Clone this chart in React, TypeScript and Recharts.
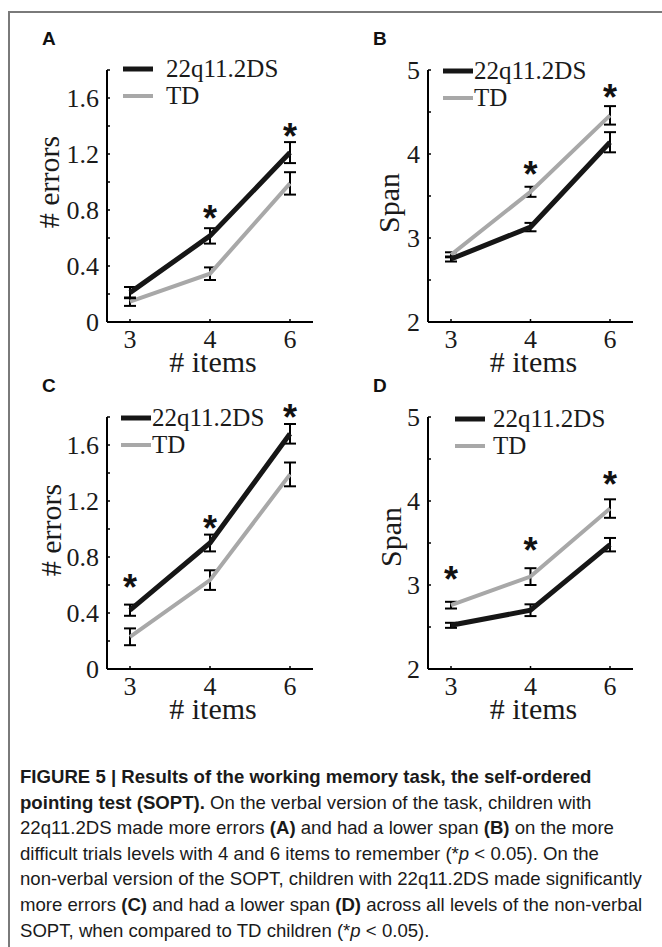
import React from 'react'
import { LineChart, Line, XAxis, YAxis, ErrorBar, ReferenceDot, Legend } from 'recharts'

const items = ['3', '4', '6']
const groups = ['22q11.2DS', 'TD']

// A - verbal SOPT, errors
const errVerbal22q = [0.21, 0.615, 1.21]
const errVerbal22qSem = [0.04, 0.055, 0.075]
const errVerbalTD = [0.145, 0.345, 0.99]
const errVerbalTDSem = [0.03, 0.045, 0.08]
const starsA = [null, 0.79, 1.38]

// B - verbal SOPT, span
const spanVerbal22q = [2.75, 3.13, 4.14]
const spanVerbal22qSem = [0.03, 0.05, 0.12]
const spanVerbalTD = [2.8, 3.55, 4.46]
const spanVerbalTDSem = [0.03, 0.06, 0.11]
const starsB = [null, 3.85, 4.76]

// C - non-verbal SOPT, errors
const errNonverbal22q = [0.42, 0.9, 1.68]
const errNonverbal22qSem = [0.04, 0.06, 0.07]
const errNonverbalTD = [0.23, 0.635, 1.39]
const errNonverbalTDSem = [0.06, 0.07, 0.085]
const starsC = [0.635, 1.06, 1.85]

// D - non-verbal SOPT, span
const spanNonverbal22q = [2.52, 2.7, 3.48]
const spanNonverbal22qSem = [0.03, 0.07, 0.08]
const spanNonverbalTD = [2.76, 3.1, 3.91]
const spanNonverbalTDSem = [0.04, 0.1, 0.11]
const starsD = [3.16, 3.5, 4.29]

const errTicks = [0, 0.2, 0.4, 0.6, 0.8, 1.0, 1.2, 1.4, 1.6, 1.8]
const errTickLabels = ['0', '', '0.4', '', '0.8', '', '1.2', '', '1.6', '']
const spanTicks = [2, 2.5, 3, 3.5, 4, 4.5, 5]
const spanTickLabels = ['2', '', '3', '', '4', '', '5']

const BLACK = '#161616'
const GRAY = '#a8a8a8'
const SERIF = '"Liberation Serif", "Times New Roman", serif'
const SANS = '"Liberation Sans", Arial, sans-serif'

type PanelProps = {
  letter: string
  left: number
  top: number
  ds: number[]
  dsSem: number[]
  td: number[]
  tdSem: number[]
  stars: (number | null)[]
  yTicks: number[]
  yTickLabels: string[]
  yLabel: string
  marginLeft: number
  marginRight: number
  yLabelX: number
  yLabelDy: number
  legendX: number
  legendY: number
  legendTextX: number
}

function Panel(p: PanelProps) {
  const data = items.map((it, i) => ({
    items: it,
    ds: p.ds[i],
    dsSem: p.dsSem[i],
    td: p.td[i],
    tdSem: p.tdSem[i],
  }))
  const domain = [p.yTicks[0], p.yTicks[p.yTicks.length - 1]]

  const legendContent = () => (
    <svg width={220} height={60} style={{ display: 'block' }}>
      {groups.map((g, i) => (
        <g key={g}>
          <line x1={0} x2={30} y1={13 + i * 27} y2={13 + i * 27} stroke={i === 0 ? BLACK : GRAY} strokeWidth={i === 0 ? 5 : 4} />
          <text x={p.legendTextX} y={21 + i * 27} fontFamily={SERIF} fontSize={25} fill="#1a1a1a">{g}</text>
        </g>
      ))}
    </svg>
  )

  return (
    <div style={{ position: 'absolute', left: p.left, top: p.top, width: 331, height: 380 }}>
      <div style={{ position: 'absolute', left: 42, top: 28, fontFamily: SANS, fontWeight: 'bold', fontSize: 19, color: '#111', zIndex: 2 }}>
        {p.letter}
      </div>
      <LineChart width={331} height={380} data={data} margin={{ top: 70, right: p.marginRight, bottom: 8, left: p.marginLeft }}>
        <XAxis
          dataKey="items"
          type="category"
          interval={0}
          padding={{ left: 23, right: 23 }}
          axisLine={{ stroke: '#000', strokeWidth: 2 }}
          tickLine={{ stroke: '#000', strokeWidth: 1.5 }}
          tickSize={-3}
          tickMargin={11}
          height={50}
          tick={{ fontFamily: SERIF, fontSize: 26, fill: '#1a1a1a' }}
          label={(props: any) => {
            const vb = props.viewBox
            return (
              <text x={vb.x + vb.width / 2 + 3} y={vb.y + 50} textAnchor="middle" fontFamily={SERIF} fontSize={30} fill="#1a1a1a">
                # items
              </text>
            )
          }}
        />
        <YAxis
          type="number"
          domain={domain}
          ticks={p.yTicks}
          interval={0}
          width={60}
          axisLine={{ stroke: '#000', strokeWidth: 2 }}
          tickLine={{ stroke: '#000', strokeWidth: 1.5 }}
          tickSize={-3}
          tickMargin={11}
          tickFormatter={(v: number, i: number) => p.yTickLabels[i]}
          tick={{ fontFamily: SERIF, fontSize: 26, fill: '#1a1a1a' }}
          label={(props: any) => {
            const vb = props.viewBox
            const y = vb.y + vb.height / 2 + p.yLabelDy
            return (
              <text x={p.yLabelX} y={y} transform={`rotate(-90, ${p.yLabelX}, ${y})`} textAnchor="middle" dominantBaseline="central" fontFamily={SERIF} fontSize={30} fill="#1a1a1a">
                {p.yLabel}
              </text>
            )
          }}
        />
        <Legend
          layout="horizontal"
          verticalAlign="middle"
          align="center"
          content={legendContent}
          wrapperStyle={{ position: 'absolute', left: p.legendX, top: p.legendY, width: 220, height: 60 }}
        />
        <Line dataKey="td" name="TD" stroke={GRAY} strokeWidth={4} dot={false} activeDot={false} isAnimationActive={false}>
          <ErrorBar dataKey="tdSem" direction="y" width={6} stroke="#000" strokeWidth={2} isAnimationActive={false} />
        </Line>
        <Line dataKey="ds" name="22q11.2DS" stroke={BLACK} strokeWidth={5} dot={false} activeDot={false} isAnimationActive={false}>
          <ErrorBar dataKey="dsSem" direction="y" width={6} stroke="#000" strokeWidth={2} isAnimationActive={false} />
        </Line>
        {p.stars.map((s, i) =>
          s == null ? null : (
            <ReferenceDot
              key={i}
              x={items[i]}
              y={s}
              r={0}
              ifOverflow="visible"
              shape={(sp: any) => (
                <text x={sp.cx} y={sp.cy + 20} textAnchor="middle" fontFamily={SANS} fontWeight="bold" fontSize={36} fill="#111">*</text>
              )}
            />
          )
        )}
      </LineChart>
    </div>
  )
}

export default function App() {
  return (
    <div style={{ position: 'absolute', left: 0, top: 0, width: 662, height: 947, background: '#fff', overflow: 'hidden' }}>
      <div style={{ position: 'absolute', left: 8, top: 11, width: 654, height: 2, background: '#7a7a7a' }} />
      <div style={{ position: 'absolute', left: 8, top: 11, width: 2, height: 936, background: '#7a7a7a' }} />
      <Panel
        letter="A" left={0} top={0}
        ds={errVerbal22q} dsSem={errVerbal22qSem} td={errVerbalTD} tdSem={errVerbalTDSem} stars={starsA}
        yTicks={errTicks} yTickLabels={errTickLabels} yLabel="# errors"
        marginLeft={47} marginRight={18} yLabelX={48} yLabelDy={-14}
        legendX={123} legendY={56} legendTextX={43}
      />
      <Panel
        letter="B" left={331} top={0}
        ds={spanVerbal22q} dsSem={spanVerbal22qSem} td={spanVerbalTD} tdSem={spanVerbalTDSem} stars={starsB}
        yTicks={spanTicks} yTickLabels={spanTickLabels} yLabel="Span"
        marginLeft={37} marginRight={29} yLabelX={57} yLabelDy={7}
        legendX={112} legendY={58} legendTextX={31}
      />
      <Panel
        letter="C" left={0} top={347}
        ds={errNonverbal22q} dsSem={errNonverbal22qSem} td={errNonverbalTD} tdSem={errNonverbalTDSem} stars={starsC}
        yTicks={errTicks} yTickLabels={errTickLabels} yLabel="# errors"
        marginLeft={47} marginRight={18} yLabelX={50} yLabelDy={-13}
        legendX={121} legendY={58} legendTextX={31}
      />
      <Panel
        letter="D" left={331} top={347}
        ds={spanNonverbal22q} dsSem={spanNonverbal22qSem} td={spanNonverbalTD} tdSem={spanNonverbalTDSem} stars={starsD}
        yTicks={spanTicks} yTickLabels={spanTickLabels} yLabel="Span"
        marginLeft={37} marginRight={29} yLabelX={59} yLabelDy={-6}
        legendX={124} legendY={59} legendTextX={38}
      />
      <div
        style={{
          position: 'absolute', left: 20, top: 764, width: 640,
          fontFamily: '"Liberation Sans Narrow", "Arial Narrow", "Liberation Sans", sans-serif',
          fontSize: 18.6, lineHeight: '25.6px', color: '#1a1a1a', whiteSpace: 'nowrap',
        }}
      >
        <b>FIGURE 5 | Results of the working memory task, the self-ordered</b><br />
        <b>pointing test (SOPT).</b> On the verbal version of the task, children with<br />
        22q11.2DS made more errors <b>(A)</b> and had a lower span <b>(B)</b> on the more<br />
        difficult trials levels with 4 and 6 items to remember (*<i>p</i> &lt; 0.05). On the<br />
        non-verbal version of the SOPT, children with 22q11.2DS made significantly<br />
        more errors <b>(C)</b> and had a lower span <b>(D)</b> across all levels of the non-verbal<br />
        SOPT, when compared to TD children (*<i>p</i> &lt; 0.05).
      </div>
    </div>
  )
}
